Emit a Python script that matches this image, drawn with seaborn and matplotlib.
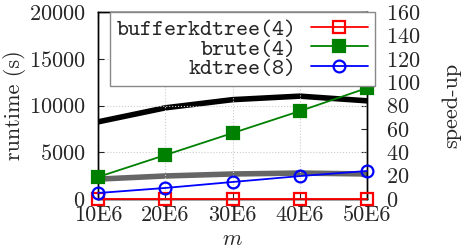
import pandas as pd
import matplotlib
matplotlib.use("Agg")
import matplotlib.pyplot as plt
import seaborn as sns

# data
m_vals = [10, 20, 30, 40, 50]
m_labels = ['10E6', '20E6', '30E6', '40E6', '50E6']
buffer_rt = [0, 0, 0, 0, 0]
brute_rt = [2350, 4700, 7050, 9400, 11870]
kdtree_rt = [640, 1180, 1820, 2450, 3000]
speedup_brute = [66, 78, 85, 88, 84]
speedup_kdtree = [17, 19.7, 21.4, 22.2, 21.4]

sns.set_style("ticks")
plt.rcParams['font.family'] = 'serif'
plt.rcParams['font.serif'] = ['cmr10', 'DejaVu Serif']
plt.rcParams['mathtext.fontset'] = 'cm'
plt.rcParams['axes.formatter.use_mathtext'] = True
plt.rcParams['font.size'] = 16

df = pd.DataFrame({
    'm': m_vals * 3,
    'runtime': buffer_rt + brute_rt + kdtree_rt,
    'method': ['bufferkdtree(4)'] * 5 + ['brute(4)'] * 5 + ['kdtree(8)'] * 5,
})
sp = pd.DataFrame({
    'm': m_vals * 2,
    'speedup': speedup_brute + speedup_kdtree,
    'vs': ['brute'] * 5 + ['kdtree'] * 5,
})

fig = plt.figure(figsize=(4.63, 2.49), dpi=100)
ax = fig.add_axes([0.2117, 0.2008, 0.5810, 0.7510])
ax2 = ax.twinx()

styles = {'bufferkdtree(4)': ('red', 's', 'none'),
          'brute(4)': ('green', 's', 'green'),
          'kdtree(8)': ('blue', 'o', 'none')}

# speed-up lines (drawn first, underneath)
sns.lineplot(data=sp, x='m', y='speedup', hue='vs', palette={'brute': 'black', 'kdtree': '#666666'},
             linewidth=4, ax=ax2, legend=False)
ax2.set_ylim(0, 160)
ax2.set_yticks(range(0, 161, 20))
ax2.set_ylabel('speed-up', labelpad=15)

for name, (c, mk, fc) in styles.items():
    sub = df[df['method'] == name]
    sns.lineplot(data=sub, x='m', y='runtime', color=c, marker=mk, markersize=8.5,
                 markerfacecolor=fc, markeredgecolor=c, markeredgewidth=1.6,
                 linewidth=1.3, ax=ax, label=name, clip_on=False, zorder=5)

ax.set_zorder(ax2.get_zorder() + 1)
ax.patch.set_visible(False)

ax.set_xlim(10, 50)
ax.set_ylim(0, 20000)
ax.set_xticks(m_vals)
ax.set_xticklabels(m_labels)
ax.set_yticks(range(0, 20001, 5000))
ax.set_xlabel('$m$', labelpad=3)
ax.set_ylabel('runtime (s)', labelpad=2)
ax.grid(True, linestyle=':', color='#cccccc', linewidth=0.8)
ax.tick_params(direction='in', top=True, length=4, pad=9)
ax.tick_params(axis='x', pad=5)
ax2.tick_params(direction='in', length=4, pad=14)
for a in (ax, ax2):
    for s in a.spines.values():
        s.set_linewidth(1.0)
        s.set_color('black')

leg = ax.legend(loc='upper left', bbox_to_anchor=(0.045, 0.998), borderaxespad=0,
                markerfirst=False, fancybox=False, framealpha=1, edgecolor='#888888',
                handlelength=2.5, labelspacing=-0.08, borderpad=0.3, handletextpad=0.6,
                prop={'family': 'cmtt10', 'size': 16.5})
leg.get_frame().set_linewidth(1.0)
leg.set_zorder(10)

fig.savefig('out.png', dpi=100)
